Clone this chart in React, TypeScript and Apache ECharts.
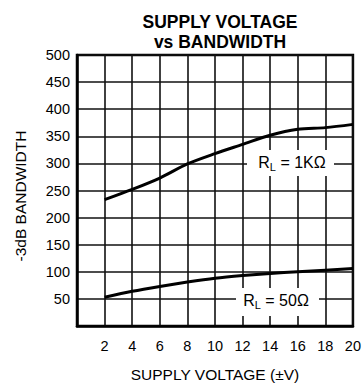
import React, { useEffect, useRef } from "react";
import * as echarts from "echarts";

const voltages = [2, 4, 6, 8, 10, 12, 14, 16, 18, 20];
const bw1k = [233, 252, 273, 299, 318, 335, 352, 363, 366, 372];
const bw50 = [53, 64, 73, 81, 88, 93, 97, 100, 103, 106];
const xTicks = [0, 2, 4, 6, 8, 10, 12, 14, 16, 18, 20];
const yTicks = [0, 50, 100, 150, 200, 250, 300, 350, 400, 450, 500];

const FONT = "Liberation Sans, Arial, Helvetica, sans-serif";

export default function App() {
  const ref = useRef<HTMLDivElement>(null);
  useEffect(() => {
    if (!ref.current) return;
    const chart = echarts.init(ref.current, undefined, { renderer: "svg" });
    const rich = {
      n: { fontFamily: FONT, fontSize: 16, color: "#000" },
      sub: { fontFamily: FONT, fontSize: 11, color: "#000", verticalAlign: "bottom", padding: [9, 0, 0, 0] },
    };
    chart.setOption({
      animation: false,
      backgroundColor: "#fff",
      title: {
        text: "SUPPLY VOLTAGE\nvs BANDWIDTH",
        left: 215,
        textAlign: "center",
        top: 7,
        textStyle: { fontFamily: FONT, fontWeight: "bold", fontSize: 17.5, lineHeight: 20, color: "#000" },
      },
      grid: {
        left: 77,
        top: 55,
        right: 11,
        bottom: 54,
        show: true,
        borderColor: "#000",
        borderWidth: 2.5,
        backgroundColor: "transparent",
      },
      xAxis: {
        type: "value",
        min: xTicks[0],
        max: xTicks[xTicks.length - 1],
        interval: 2,
        axisLine: { show: true, lineStyle: { color: "#000", width: 2.5 } },
        axisTick: { show: false },
        splitLine: { show: true, lineStyle: { color: "#111", width: 1.6 } },
        axisLabel: {
          margin: 12,
          fontFamily: FONT,
          fontSize: 14.5,
          color: "#000",
          formatter: (v: number) => (v === 0 ? "" : String(v)),
        },
        name: "SUPPLY VOLTAGE (±V)",
        nameLocation: "middle",
        nameGap: 40,
        nameTextStyle: { fontFamily: FONT, fontSize: 15.5, color: "#000" },
      },
      yAxis: {
        type: "value",
        min: yTicks[0],
        max: yTicks[yTicks.length - 1],
        interval: 50,
        axisLine: { show: true, lineStyle: { color: "#000", width: 2.5 } },
        axisTick: { show: false },
        splitLine: { show: true, lineStyle: { color: "#111", width: 1.6 } },
        axisLabel: {
          margin: 7,
          fontFamily: FONT,
          fontSize: 14.5,
          color: "#000",
          formatter: (v: number) => (v === 0 ? "" : String(v)),
        },
      },
      series: [
        {
          type: "line",
          data: voltages.map((v, i) => [v, bw1k[i]]),
          smooth: 0.3,
          symbol: "none",
          lineStyle: { color: "#000", width: 3 },
          z: 5,
        },
        {
          type: "line",
          data: voltages.map((v, i) => [v, bw50[i]]),
          smooth: 0.3,
          symbol: "none",
          lineStyle: { color: "#000", width: 3 },
          z: 5,
        },
      ],
      graphic: [
        {
          type: "text",
          x: 20,
          y: 196,
          rotation: Math.PI / 2,
          style: {
            text: "-3dB BANDWIDTH",
            fontFamily: FONT,
            fontSize: 15.5,
            fill: "#000",
            align: "center",
            verticalAlign: "middle",
          },
        },
        {
          type: "rect",
          shape: { x: 247, y: 150, width: 87, height: 26 },
          style: { fill: "#fff" },
          z: 10,
        },
        {
          type: "text",
          x: 292,
          y: 162,
          z: 11,
          style: {
            text: "{n|R}{sub|L}{n| = 1KΩ}",
            rich,
            align: "center",
            verticalAlign: "middle",
          },
        },
        {
          type: "rect",
          shape: { x: 236, y: 288, width: 83, height: 28 },
          style: { fill: "#fff" },
          z: 10,
        },
        {
          type: "text",
          x: 276,
          y: 300,
          z: 11,
          style: {
            text: "{n|R}{sub|L}{n| = 50Ω}",
            rich,
            align: "center",
            verticalAlign: "middle",
          },
        },
      ],
    });
    return () => chart.dispose();
  }, []);
  return <div ref={ref} style={{ width: 364, height: 387, position: "absolute", left: 0, top: 0 }} />;
}
